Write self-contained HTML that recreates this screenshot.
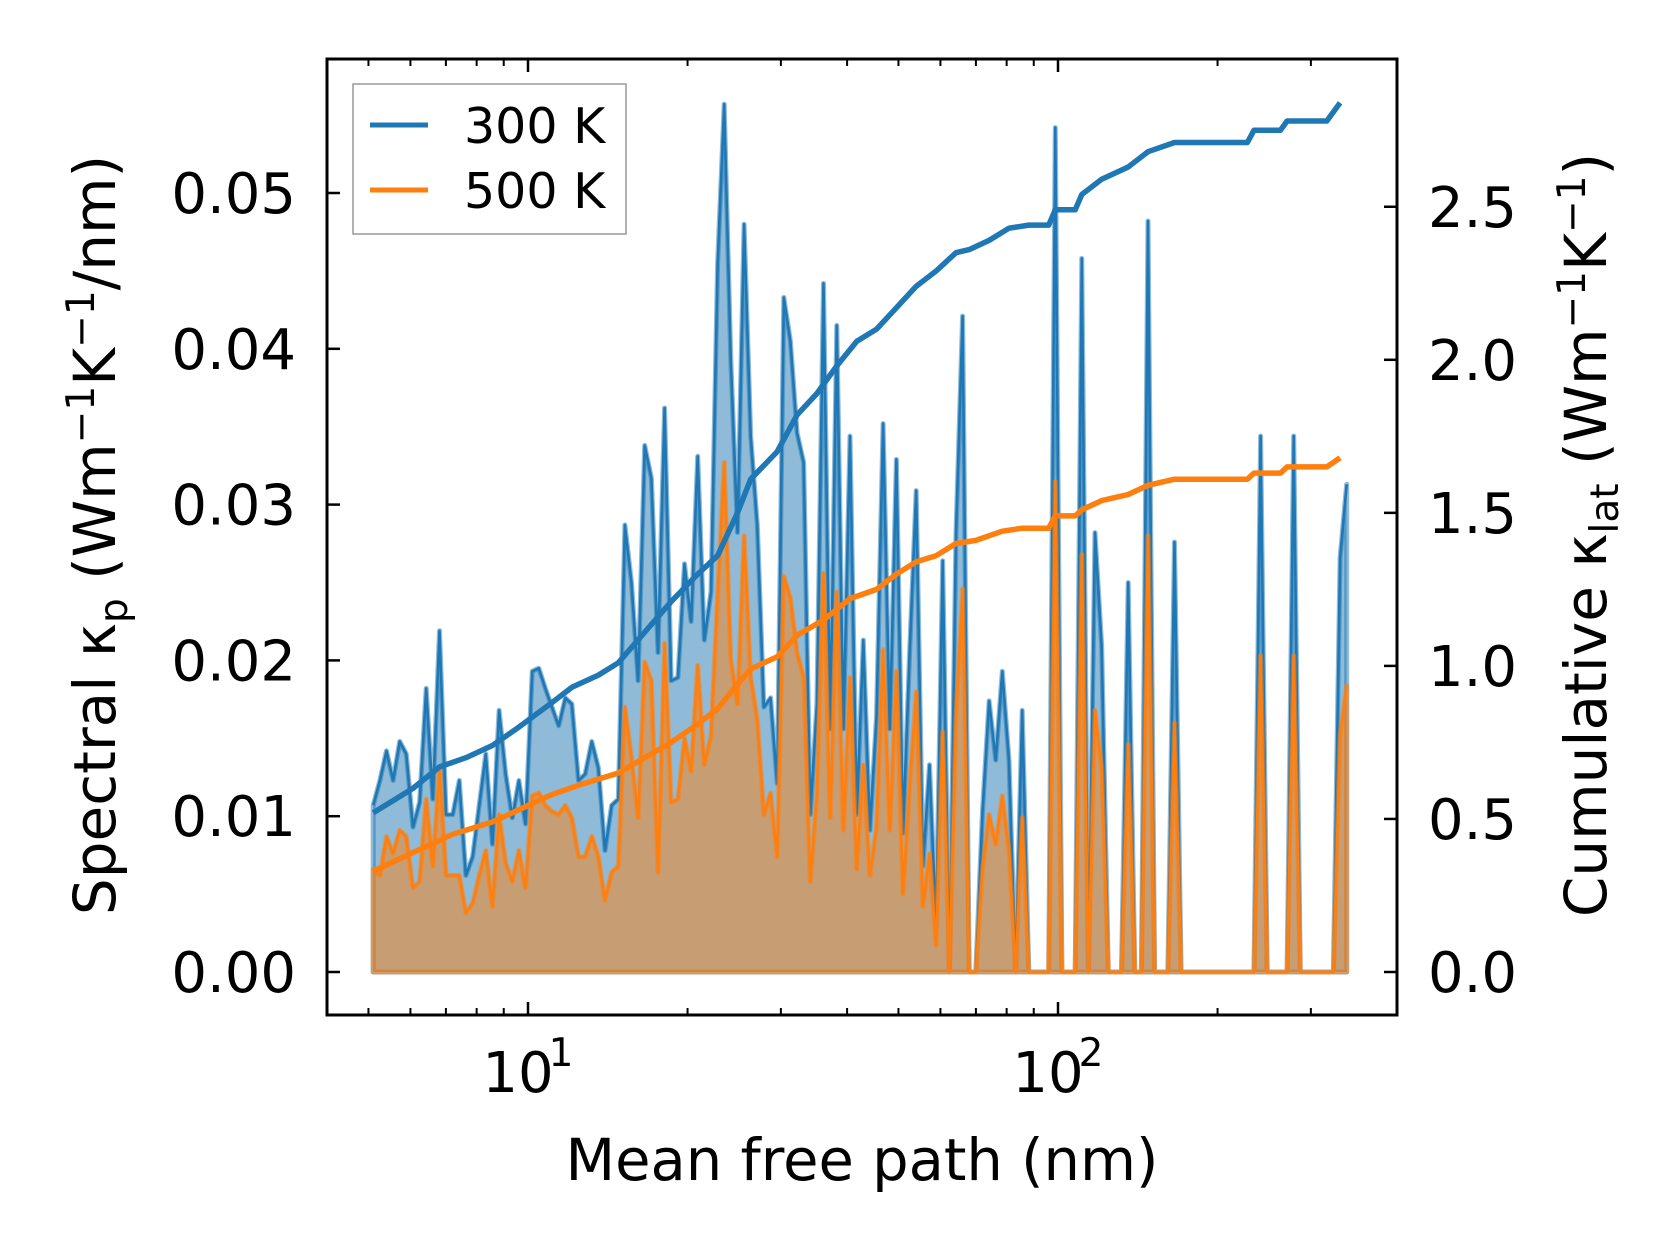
<!DOCTYPE html>
<html><head><meta charset="utf-8"><style>
html,body{margin:0;padding:0;background:#fff;}
svg text{font-family:"DejaVu Sans","Liberation Sans",sans-serif;fill:#000;}
</style></head><body>
<svg id="chart" width="1679" height="1254" viewBox="0 0 1679 1254" xmlns="http://www.w3.org/2000/svg">
<rect x="0" y="0" width="1679" height="1254" fill="#fff"/>
<g id="plot"></g>
<rect x="327" y="59" width="1070" height="956" fill="none" stroke="#000" stroke-width="3"/>
<g id="axes"></g>
<text x="862" y="1180" font-size="57.5" text-anchor="middle">Mean free path (nm)</text>
<text transform="translate(115,535) rotate(-90)" font-size="58" text-anchor="middle">Spectral κ<tspan font-size="39" dy="12">p</tspan><tspan dy="-12"> (Wm</tspan><tspan font-size="39" dy="-21">−1</tspan><tspan dy="21">K</tspan><tspan font-size="39" dy="-21">−1</tspan><tspan dy="21">/nm)</tspan></text>
<text transform="translate(1606,535) rotate(-90)" font-size="58" text-anchor="middle">Cumulative κ<tspan font-size="39" dy="12">lat</tspan><tspan dy="-12"> (Wm</tspan><tspan font-size="39" dy="-21">−1</tspan><tspan dy="21">K</tspan><tspan font-size="39" dy="-21">−1</tspan><tspan dy="21">)</tspan></text>
<g>
<rect x="353" y="84" width="273" height="150" fill="#fff" fill-opacity="0.8" stroke="#999" stroke-width="1.5"/>
<line x1="370" y1="125" x2="428" y2="125" stroke="#1f77b4" stroke-width="5"/>
<text x="464" y="143" font-size="49">300 K</text>
<line x1="370" y1="190" x2="428" y2="190" stroke="#ff7f0e" stroke-width="5"/>
<text x="464" y="208" font-size="49">500 K</text>
</g>
</svg>
<script>
// Spectral kappa (units of 1e-3 W/m/K/nm) on the MFP bins
const spec300 = [10.7,12.3,14.2,12.3,14.8,14.0,9.3,10.9,18.2,11.1,21.9,10.1,10.1,12.3,6.2,7.4,10.7,14.0,8.2,16.8,12.7,9.9,12.3,9.5,19.3,19.5,18.2,17.0,15.8,17.6,17.2,12.3,12.7,14.8,13.1,7.8,10.7,11.1,28.7,25.0,18.7,33.8,31.7,20.5,36.2,18.7,18.9,26.2,22.5,33.1,21.3,24.4,45.4,55.7,39.3,28.2,48.0,34.4,28.7,17.0,17.6,12.1,43.3,40.5,34.6,32.7,10.1,17.2,44.2,15.6,41.5,15.6,34.4,10.1,21.3,9.1,16.4,35.2,15.6,32.9,8.9,20.5,30.9,6.8,13.3,2.9,26.4,0,28.2,42.1,0,0,10.3,17.4,13.6,19.3,13.6,0,16.8,0,0,0,0,54.2,0,0,0,45.8,0,28.2,20.9,0,0,0,25.0,0,0,48.2,0,0,0,27.6,0,0,0,0,0,0,0,0,0,0,0,0,34.4,0,0,0,0,34.4,0,0,0,0,0,0,26.6,31.3];
const spec500 = [6.6,6.2,8.7,7.6,9.1,8.7,5.4,5.8,11.1,6.8,13.1,6.2,6.2,6.2,3.8,4.4,6.2,7.8,4.2,10.1,7.0,5.8,7.8,5.4,11.3,11.5,10.7,10.3,10.1,10.7,9.9,7.4,7.4,8.7,7.4,4.6,6.4,6.8,17.0,13.8,9.9,19.9,18.7,6.4,21.1,10.9,11.1,15.0,12.9,19.7,13.3,15.2,24.2,32.7,20.1,17.2,28.0,18.9,16.2,10.1,11.5,7.4,25.4,24.0,20.5,18.9,5.8,11.5,25.6,9.9,24.4,9.1,18.9,6.6,13.3,6.2,9.3,20.7,9.1,19.3,5.0,11.9,18.0,4.2,7.6,1.7,15.4,0,16.4,24.6,0,0,6.6,10.1,8.2,11.3,7.8,0,9.9,0,0,0,0,31.5,0,0,0,26.8,0,16.8,13.1,0,0,0,14.6,0,0,28.0,0,0,0,16.0,0,0,0,0,0,0,0,0,0,0,0,0,20.3,0,0,0,0,20.3,0,0,0,0,0,0,15.2,18.4];
// MFP bins (nm): log-spaced bins from 5.1 nm to ~350 nm
const mfpStart = 5.105, mfpEnd = 350.5;
// cumulative curves: bin index and cumulative kappa (W/m/K)
const cum300Bin = [0,3,6,10,14,18,22,27,30,34,37,41,45,49,52,55,57,61,64,67,70,73,76,79,82,85,88,90,93,96,99,102,103,106,107,110,114,117,121,132,133,137,138,144,146];
const cum300Val = [0.52,0.56,0.60,0.67,0.70,0.74,0.80,0.88,0.93,0.97,1.01,1.11,1.21,1.30,1.36,1.50,1.61,1.70,1.82,1.89,1.98,2.06,2.10,2.17,2.24,2.29,2.35,2.36,2.39,2.43,2.44,2.44,2.49,2.49,2.54,2.59,2.63,2.68,2.71,2.71,2.75,2.75,2.78,2.78,2.84];
const cum500Bin = [0,6,12,18,22,27,31,37,41,45,49,52,55,57,61,64,68,72,76,79,82,85,88,91,95,98,102,103,106,107,110,114,117,121,132,133,137,138,144,146];
const cum500Val = [0.33,0.39,0.45,0.49,0.53,0.58,0.61,0.65,0.70,0.75,0.81,0.86,0.94,0.99,1.03,1.10,1.15,1.22,1.25,1.30,1.34,1.36,1.40,1.41,1.44,1.45,1.45,1.49,1.49,1.51,1.54,1.56,1.59,1.61,1.61,1.63,1.63,1.65,1.65,1.68];
const leftTicks = [0,0.01,0.02,0.03,0.04,0.05];
const leftTickLabels = ["0.00","0.01","0.02","0.03","0.04","0.05"];
const rightTicks = [0,0.5,1.0,1.5,2.0,2.5];
const rightTickLabels = ["0.0","0.5","1.0","1.5","2.0","2.5"];
const xMajor = [10,100];
const xMajorExp = ["1","2"];
const xMinor = [5,6,7,8,9,20,30,40,50,60,70,80,90,200,300];

const NS="http://www.w3.org/2000/svg";
const L=327,R=1397,T=59,B=1015;
const xs = v => 528 + (Math.log10(v)-1)*530;
const yl = v => 972 - v*15580;
const yr = v => 972 - v*306.1;
const n = spec300.length;
const mfp = [];
for(let i=0;i<n;i++) mfp.push(Math.pow(10, Math.log10(mfpStart)+(Math.log10(mfpEnd)-Math.log10(mfpStart))*i/(n-1)));
const plot=document.getElementById('plot'), axes=document.getElementById('axes');
function mk(tag,attrs,parent){const e=document.createElementNS(NS,tag);for(const k in attrs)e.setAttribute(k,attrs[k]);parent.appendChild(e);return e;}

function drawSpec(arr,color,fill,name){
  let pts=arr.map((v,i)=>xs(mfp[i]).toFixed(1)+','+yl(v/1000).toFixed(1));
  const poly='M'+xs(mfp[0]).toFixed(1)+','+yl(0)+' L'+pts.join(' L')+' L'+xs(mfp[n-1]).toFixed(1)+','+yl(0)+' Z';
  const a=mk('path',{d:poly,fill:fill,'fill-opacity':0.5,stroke:color,'stroke-opacity':0.5,'stroke-width':5,'stroke-linejoin':'round'},plot);
  
  
  const l=mk('polyline',{points:pts.join(' '),fill:'none',stroke:color,'stroke-width':2.6,'stroke-linejoin':'round'},plot);
  
  
}
drawSpec(spec300,'#1f77b4','#1f77b4','spectral-300k');
drawSpec(spec500,'#ff7f0e','#ff7f0e','spectral-500k');
function drawCum(bins,vals,color,name){
  const pts=bins.map((b,i)=>xs(mfp[b]).toFixed(1)+','+yr(vals[i]).toFixed(1)).join(' ');
  const l=mk('polyline',{points:pts,fill:'none',stroke:color,'stroke-width':5.5,'stroke-linejoin':'round'},plot);
  
  
}
drawCum(cum300Bin,cum300Val,'#1f77b4','cumulative-300k');
drawCum(cum500Bin,cum500Val,'#ff7f0e','cumulative-500k');

leftTicks.forEach((v,i)=>{
  const y=yl(v);
  mk('line',{x1:L,x2:L+13,y1:y,y2:y,stroke:'#000','stroke-width':2.5},axes);
  const t=mk('text',{x:296,y:y+20,'font-size':56,'text-anchor':'end'},axes);
  t.textContent=leftTickLabels[i];
  
  
});
rightTicks.forEach((v,i)=>{
  const y=yr(v);
  mk('line',{x1:R-13,x2:R,y1:y,y2:y,stroke:'#000','stroke-width':2.5},axes);
  const t=mk('text',{x:1428,y:y+20,'font-size':56},axes);
  t.textContent=rightTickLabels[i];
  
  
});
xMajor.forEach((v,i)=>{
  const x=xs(v);
  mk('line',{x1:x,x2:x,y1:B,y2:B-13,stroke:'#000','stroke-width':2.5},axes);
  mk('line',{x1:x,x2:x,y1:T,y2:T+13,stroke:'#000','stroke-width':2.5},axes);
  const t=mk('text',{x:x-10,y:1092,'font-size':56,'text-anchor':'middle'},axes);
  t.textContent='10';
  
  
  const s=mk('text',{x:x+33,y:1066,'font-size':39,'text-anchor':'middle'},axes);
  s.textContent=xMajorExp[i];
  
  
});
xMinor.forEach(v=>{
  const x=xs(v);
  mk('line',{x1:x,x2:x,y1:B,y2:B-7,stroke:'#000','stroke-width':2},axes);
  mk('line',{x1:x,x2:x,y1:T,y2:T+7,stroke:'#000','stroke-width':2},axes);
});
</script>
</body></html>
